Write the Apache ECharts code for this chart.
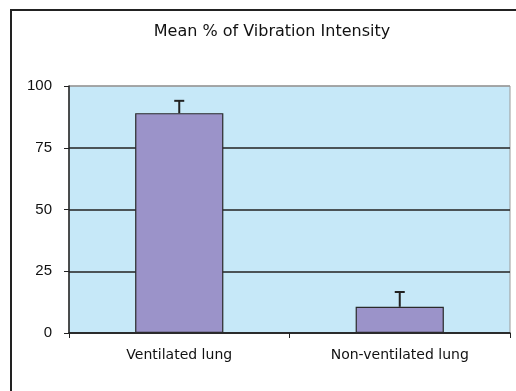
<!DOCTYPE html>
<html>
<head>
<meta charset="utf-8">
<script src="https://cdn.jsdelivr.net/npm/echarts@6/dist/echarts.min.js"></script>
<style>
  html, body { margin: 0; padding: 0; background: #ffffff; }
  #chart { width: 516px; height: 391px; }
</style>
</head>
<body>
<div id="chart"></div>
<script>
// Mean vibration intensity per lung, with upper error bars
var titleText = 'Mean % of Vibration Intensity';
var categories = ['Ventilated lung', 'Non-ventilated lung'];
var meanValues = [89, 10.6];
var upperValues = [94, 16.6];
var yTicks = [0, 25, 50, 75, 100];

var chart = echarts.init(document.getElementById('chart'));

var errorData = categories.map(function (c, i) {
  return [i, meanValues[i], upperValues[i]];
});

chart.setOption({
  animation: false,
  backgroundColor: '#ffffff',
  graphic: [{
    type: 'rect',
    shape: { x: 11, y: 10, width: 520, height: 400 },
    style: { fill: 'none', stroke: '#222', lineWidth: 2 },
    silent: true,
    z: 100
  }, {
    type: 'text',
    x: 272,
    y: 32,
    style: {
      text: titleText,
      textAlign: 'center',
      textVerticalAlign: 'middle',
      font: '16px "DejaVu Sans", sans-serif',
      fill: '#111'
    },
    silent: true
  }],
  grid: {
    left: 69, right: 6, top: 86, bottom: 58,
    show: true,
    backgroundColor: '#c6e8f8',
    borderColor: '#9a9a9a',
    borderWidth: 1
  },
  xAxis: {
    type: 'category',
    data: categories,
    boundaryGap: true,
    axisLine: { lineStyle: { color: '#222', width: 1.5 } },
    axisTick: { show: true, length: 5, lineStyle: { color: '#222' } },
    axisLabel: {
      margin: 15,
      fontFamily: 'DejaVu Sans, sans-serif',
      fontSize: 14,
      color: '#111'
    },
    splitLine: { show: false }
  },
  yAxis: {
    type: 'value',
    min: yTicks[0],
    max: yTicks[yTicks.length - 1],
    interval: 25,
    axisLine: { show: true, lineStyle: { color: '#222', width: 1.5 } },
    axisTick: { show: true, length: 5, lineStyle: { color: '#222' } },
    axisLabel: {
      margin: 17,
      fontFamily: 'Liberation Sans, Arial, sans-serif',
      fontSize: 15,
      color: '#111'
    },
    splitLine: {
      show: true,
      lineStyle: { color: ['#222', '#222', '#222', '#222', '#9a9a9a'], width: 1.5 }
    }
  },
  series: [{
    type: 'bar',
    data: meanValues,
    barWidth: '40%',
    itemStyle: { color: '#9b93c9', borderColor: '#2a2a2a', borderWidth: 1.2 },
    z: 2
  }, {
    type: 'custom',
    data: errorData,
    z: 3,
    renderItem: function (params, api) {
      var x = api.value(0);
      var base = api.coord([x, api.value(1)]);
      var top = api.coord([x, api.value(2)]);
      var half = 5;
      var style = { stroke: '#222', lineWidth: 2 };
      return {
        type: 'group',
        children: [{
          type: 'line',
          shape: { x1: base[0], y1: base[1], x2: top[0], y2: top[1] },
          style: style
        }, {
          type: 'line',
          shape: { x1: top[0] - half, y1: top[1], x2: top[0] + half, y2: top[1] },
          style: style
        }]
      };
    }
  }]
});
</script>
</body>
</html>
